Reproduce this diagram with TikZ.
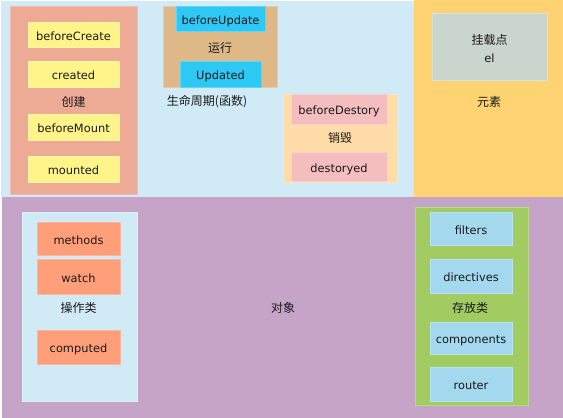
\documentclass[tikz,border=0pt]{standalone}
\usepackage{fontspec}
\setmainfont{DejaVu Sans}
\newfontfamily\cjkf{Noto Sans CJK SC}
\definecolor{lblue}{HTML}{D0EBF5}
\definecolor{orgbg}{HTML}{FFD272}
\definecolor{purp}{HTML}{C6A4C8}
\definecolor{salmon}{HTML}{EDAA95}
\definecolor{yel}{HTML}{FFF48A}
\definecolor{tan}{HTML}{DEB887}
\definecolor{cyanb}{HTML}{2EC8F5}
\definecolor{peach}{HTML}{FFDCA8}
\definecolor{pinkb}{HTML}{F5BEBE}
\definecolor{grayb}{HTML}{CAD5CE}
\definecolor{orng}{HTML}{FF9F7A}
\definecolor{grn}{HTML}{A2CC62}
\definecolor{sky}{HTML}{A3D8EE}
\definecolor{txt}{HTML}{1A1A1A}
\tikzset{
  region/.style={draw=none, fill=#1, inner sep=0pt, outer sep=0pt},
  boxx/.style args={#1/#2/#3}{draw=#1!75!white, line width=0.7pt, fill=#1, inner sep=0pt, minimum width=#2pt, minimum height=#3pt, text=txt, font=\fontsize{11.4}{13}\selectfont, text height=12pt, text depth=1pt},
  lbl/.style={text=txt, font=\cjkf\fontsize{12}{14}\selectfont, inner sep=0pt},
  lat/.style={text=txt, font=\fontsize{11.4}{13}\selectfont, inner sep=0pt, text height=12pt, text depth=1pt}
}
\begin{document}
\begin{tikzpicture}[x=1pt,y=-1pt]
\useasboundingbox (0,0) rectangle (563,418);
\fill[white] (0,0) rectangle (563,418);
% regions
\node[region=lblue, minimum width=413pt, minimum height=196pt, anchor=north west] (life) at (1,1) {};
\node[region=orgbg, minimum width=149pt, minimum height=198pt, anchor=north west] (elem) at (414,0) {};
\node[region=purp, minimum width=561pt, minimum height=221pt, anchor=north west] (obj) at (2,197) {};
% create
\node[boxx=salmon/127/188] (create) at (73.5,100) {};
\node[boxx=yel/91/25] (bc) at (73.5,34.5) {beforeCreate};
\node[boxx=yel/91/26] (cr) at (73.5,74) {created};
\node[lbl] (createl) at (73.5,102) {创建};
\node[boxx=yel/91/26] (bm) at (73.5,127) {beforeMount};
\node[boxx=yel/91/26] (mo) at (73.5,169) {mounted};
% run
\node[boxx=tan/114/81] (run) at (220,46.5) {};
\node[boxx=cyanb/89/25] (bu) at (220.5,18.5) {beforeUpdate};
\node[lbl] (runl) at (220,48) {运行};
\node[boxx=cyanb/81/26] (up) at (220.5,74) {Updated};
\node[lbl] (lifel) at (207,102) {生命周期(函数)};
% destroy
\node[boxx=peach/114/88] (des) at (340,138) {};
\node[boxx=pinkb/96/30] (bd) at (339,109) {beforeDestory};
\node[lbl] (desl) at (340,138) {销毁};
\node[boxx=pinkb/96/29] (dd) at (339,166.5) {destoryed};
% element
\node[boxx=grayb/115/67] (mount) at (489.5,46.5) {};
\node[lbl] (mountl) at (489.5,40) {挂载点};
\node[lat] (el) at (489.5,57) {el};
\node[lbl] (eleml) at (489,102) {元素};
% operations
\node[boxx=lblue/115/189] (ops) at (79.5,306.5) {};
\node[boxx=orng/83/33] (me) at (78.5,238.5) {methods};
\node[boxx=orng/83/35] (wa) at (78.5,276.5) {watch};
\node[lbl] (opsl) at (78.5,308) {操作类};
\node[boxx=orng/83/34] (co) at (78.5,347) {computed};
\node[lbl] (objl) at (283,308) {对象};
% storage
\node[boxx=grn/113/198] (sto) at (471.5,306) {};
\node[boxx=sky/82/33] (fi) at (471,228.5) {filters};
\node[boxx=sky/82/34] (di) at (471,276) {directives};
\node[lbl] (stol) at (470,308) {存放类};
\node[boxx=sky/82/32] (cp) at (471,338) {components};
\node[boxx=sky/82/34] (ro) at (471,384) {router};
\end{tikzpicture}
\end{document}
